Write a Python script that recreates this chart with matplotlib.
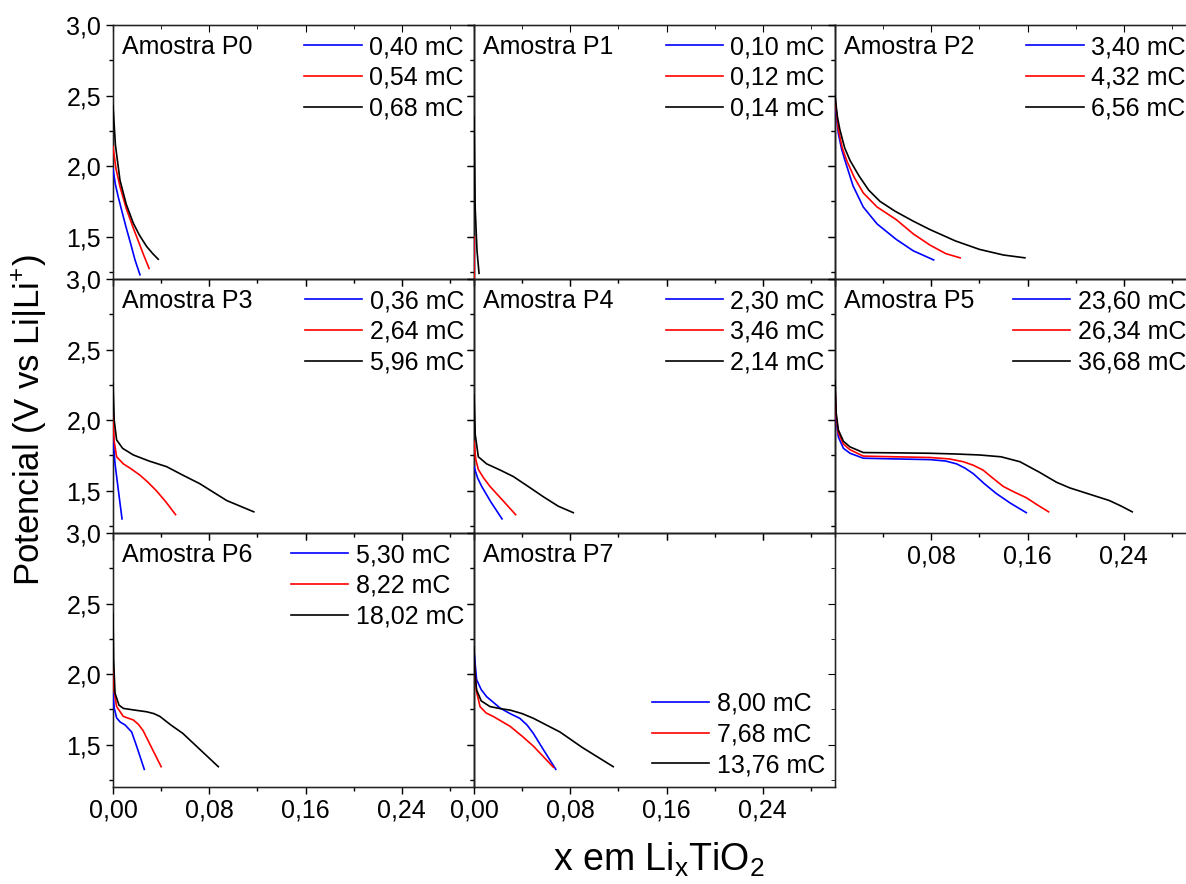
import matplotlib
matplotlib.use('Agg')
import matplotlib.pyplot as plt
from matplotlib.ticker import MultipleLocator, FuncFormatter

plt.rcParams['font.family'] = ['Liberation Sans', 'DejaVu Sans']
plt.rcParams['mathtext.default'] = 'regular'

# --- data (x em LixTiO2, potencial / V) ---
samples = ['Amostra P0', 'Amostra P1', 'Amostra P2', 'Amostra P3',
           'Amostra P4', 'Amostra P5', 'Amostra P6', 'Amostra P7']

p0_labels = ['0,40 mC', '0,54 mC', '0,68 mC']
p0_blue = ([0.0, 0.002, 0.0044, 0.008, 0.0114, 0.015, 0.0183, 0.0224],
           [1.98, 1.87, 1.78, 1.66, 1.55, 1.44, 1.335, 1.23])
p0_red = ([0.0, 0.0025, 0.0058, 0.011, 0.0169, 0.021, 0.025, 0.030],
          [2.14, 1.98, 1.855, 1.70, 1.56, 1.47, 1.38, 1.275])
p0_black = ([0.0, 0.002, 0.0058, 0.011, 0.0169, 0.022, 0.028, 0.033, 0.0376],
            [2.43, 2.15, 1.90, 1.73, 1.595, 1.51, 1.43, 1.38, 1.34])

p1_labels = ['0,10 mC', '0,12 mC', '0,14 mC']
p1_blue = ([0.0, 0.0, 0.0003], [1.48, 1.3, 1.1])
p1_red = ([0.0, 0.0, 0.0003], [1.50, 1.3, 1.1])
p1_black = ([0.0, 0.0005, 0.001, 0.0025, 0.0042], [2.35, 2.0, 1.7, 1.4, 1.24])

p2_labels = ['3,40 mC', '4,32 mC', '6,56 mC']
p2_blue = ([0.0, 0.0028, 0.0055, 0.0083, 0.015, 0.0235, 0.035, 0.051, 0.065, 0.082],
           [2.46, 2.23, 2.12, 2.04, 1.86, 1.71, 1.59, 1.48, 1.40, 1.335])
p2_red = ([0.0, 0.0028, 0.006, 0.0097, 0.016, 0.0235, 0.035, 0.051, 0.065, 0.079, 0.092, 0.104],
          [2.48, 2.26, 2.13, 2.04, 1.92, 1.81, 1.71, 1.62, 1.52, 1.44, 1.38, 1.35])
p2_black = ([0.0, 0.002, 0.004, 0.008, 0.0125, 0.02, 0.028, 0.0374, 0.05, 0.065, 0.079, 0.10, 0.12, 0.14, 0.1578],
            [2.50, 2.35, 2.26, 2.13, 2.04, 1.93, 1.83, 1.75, 1.68, 1.61, 1.55, 1.47, 1.41, 1.37, 1.35])

p3_labels = ['0,36 mC', '2,64 mC', '5,96 mC']
p3_blue = ([0.0, 0.0017, 0.0045, 0.0075], [1.88, 1.69, 1.50, 1.30])
p3_red = ([0.0, 0.001, 0.003, 0.0086, 0.015, 0.0224, 0.029, 0.036, 0.044, 0.052],
          [2.05, 1.85, 1.74, 1.69, 1.655, 1.61, 1.56, 1.50, 1.42, 1.33])
p3_black = ([0.0, 0.001, 0.003, 0.008, 0.0169, 0.03, 0.0446, 0.058, 0.072, 0.0945, 0.117],
            [2.26, 2.0, 1.86, 1.80, 1.753, 1.71, 1.67, 1.61, 1.55, 1.43, 1.35])

p4_labels = ['2,30 mC', '3,46 mC', '2,14 mC']
p4_blue = ([0.0, 0.003, 0.0064, 0.014, 0.0233], [1.67, 1.59, 1.53, 1.42, 1.30])
p4_red = ([0.0, 0.0015, 0.0036, 0.008, 0.0133, 0.024, 0.0346], [1.85, 1.72, 1.65, 1.59, 1.53, 1.43, 1.33])
p4_black = ([0.0, 0.001, 0.0036, 0.0105, 0.022, 0.0327, 0.045, 0.0576, 0.07, 0.0825],
            [2.18, 1.9, 1.74, 1.69, 1.645, 1.60, 1.53, 1.457, 1.39, 1.344])

p5_labels = ['23,60 mC', '26,34 mC', '36,68 mC']
p5_blue = ([0.0, 0.001, 0.0028, 0.007, 0.0125, 0.0235, 0.05, 0.079, 0.092, 0.101, 0.108, 0.115,
            0.124, 0.134, 0.146, 0.159],
           [2.20, 2.0, 1.88, 1.80, 1.765, 1.73, 1.725, 1.72, 1.71, 1.69, 1.66, 1.62,
            1.55, 1.48, 1.41, 1.344])
p5_red = ([0.0, 0.001, 0.0028, 0.007, 0.0125, 0.0235, 0.05, 0.079, 0.095, 0.1066, 0.115, 0.123,
           0.131, 0.1398, 0.149, 0.159, 0.168, 0.1775],
          [2.24, 2.02, 1.91, 1.83, 1.79, 1.745, 1.74, 1.735, 1.725, 1.705, 1.68, 1.646,
           1.59, 1.53, 1.49, 1.45, 1.40, 1.35])
p5_black = ([0.0, 0.001, 0.0028, 0.007, 0.0125, 0.0235, 0.05, 0.079, 0.10, 0.120, 0.138, 0.1537,
             0.17, 0.184, 0.195, 0.206, 0.228, 0.238, 0.247],
            [2.28, 2.05, 1.93, 1.85, 1.81, 1.77, 1.768, 1.765, 1.76, 1.753, 1.74, 1.705,
             1.63, 1.56, 1.52, 1.49, 1.43, 1.39, 1.35])

p6_labels = ['5,30 mC', '8,22 mC', '18,02 mC']
p6_blue = ([0.0, 0.001, 0.003, 0.006, 0.010, 0.0155, 0.020, 0.026],
           [1.864, 1.76, 1.69, 1.66, 1.64, 1.59, 1.48, 1.325])
p6_red = ([0.0, 0.001, 0.003, 0.0086, 0.0169, 0.021, 0.025, 0.032, 0.040],
          [2.076, 1.88, 1.77, 1.70, 1.675, 1.645, 1.60, 1.48, 1.344])
p6_black = ([0.0, 0.0005, 0.0017, 0.005, 0.0086, 0.018, 0.028, 0.034, 0.039, 0.048, 0.058, 0.073, 0.0875],
            [2.43, 2.1, 1.864, 1.78, 1.757, 1.745, 1.733, 1.72, 1.70, 1.64, 1.58, 1.46, 1.344])

p7_labels = ['8,00 mC', '7,68 mC', '13,76 mC']
p7_blue = ([0.0, 0.0022, 0.006, 0.0105, 0.0216, 0.03, 0.038, 0.044, 0.0493, 0.058, 0.068],
           [2.16, 1.96, 1.89, 1.84, 1.76, 1.72, 1.687, 1.64, 1.58, 1.46, 1.325])
p7_red = ([0.0, 0.002, 0.005, 0.010, 0.016, 0.030, 0.04, 0.0493, 0.066],
          [2.10, 1.88, 1.77, 1.725, 1.70, 1.63, 1.56, 1.49, 1.34])
p7_black = ([0.0, 0.0008, 0.0022, 0.006, 0.0133, 0.022, 0.030, 0.04, 0.0493, 0.06, 0.0714, 0.09, 0.1157],
            [2.19, 2.0, 1.887, 1.81, 1.77, 1.755, 1.745, 1.72, 1.687, 1.64, 1.59, 1.48, 1.344])

curves = [(p0_blue, p0_red, p0_black), (p1_blue, p1_red, p1_black), (p2_blue, p2_red, p2_black),
          (p3_blue, p3_red, p3_black), (p4_blue, p4_red, p4_black), (p5_blue, p5_red, p5_black),
          (p6_blue, p6_red, p6_black), (p7_blue, p7_red, p7_black)]
labels = [p0_labels, p1_labels, p2_labels, p3_labels, p4_labels, p5_labels, p6_labels, p7_labels]
colors = ['#0000ff', '#ff0000', '#000000']

comma = FuncFormatter(lambda v, pos: ('%.2f' % v).replace('.', ','))
comma1 = FuncFormatter(lambda v, pos: ('%.1f' % v).replace('.', ','))

fig = plt.figure(figsize=(11.86, 8.84), dpi=100, facecolor='white')
W, H = 1186., 884.
lefts = [113, 474, 835]
tops = [25, 279, 533]
pw, ph = 361, 254

def mirror(ax):
    # inward ticks on top and right, as in the Origin original
    ax2 = ax.twinx()
    ax2.set_ylim(1.2, 3.0)
    ax2.yaxis.set_major_locator(MultipleLocator(0.5))
    ax2.yaxis.set_minor_locator(MultipleLocator(0.25))
    ax2.tick_params(which='both', direction='in', labelright=False)
    ax2.tick_params(which='major', length=5)
    ax2.tick_params(which='minor', length=3)
    ax3 = ax.twiny()
    ax3.set_xlim(0, 0.30)
    ax3.xaxis.set_major_locator(MultipleLocator(0.08))
    ax3.xaxis.set_minor_locator(MultipleLocator(0.04))
    ax3.tick_params(which='both', direction='in', labeltop=False)
    ax3.tick_params(which='major', length=5)
    ax3.tick_params(which='minor', length=3)
    for a in (ax2, ax3):
        for sp in a.spines.values():
            sp.set_color('#222222')

for i in range(8):
    r, c = divmod(i, 3)
    ax = fig.add_axes([lefts[c] / W, 1 - (tops[r] + ph) / H, pw / W, ph / H])
    for (xs, ys), col, lab in zip(curves[i], colors, labels[i]):
        ax.plot(xs, ys, color=col, lw=1.2, label=lab, zorder=3)
    ax.set_xlim(0, 0.30)
    ax.set_ylim(1.2, 3.0)
    ax.xaxis.set_major_locator(MultipleLocator(0.08))
    ax.xaxis.set_minor_locator(MultipleLocator(0.04))
    ax.yaxis.set_major_locator(MultipleLocator(0.5))
    ax.yaxis.set_minor_locator(MultipleLocator(0.25))
    ax.xaxis.set_major_formatter(comma)
    ax.yaxis.set_major_formatter(comma1)
    ax.tick_params(which='both', direction='out', labelsize=18, width=1)
    ax.tick_params(which='major', length=5)
    ax.tick_params(which='minor', length=3)
    for sp in ax.spines.values():
        sp.set_linewidth(1.0)
        sp.set_color('#222222')
    mirror(ax)
    # keep the curves above the twin axes so lines on x=0 stay visible
    ax.set_zorder(5)
    ax.patch.set_visible(False)

    if c == 0:
        ax.set_yticks([1.5, 2.0, 2.5, 3.0])
    else:
        ax.tick_params(labelleft=False)
    if r == 2:
        ax.set_xticks([0.0, 0.08, 0.16, 0.24])
    elif i == 5:
        ax.set_xticks([0.08, 0.16, 0.24])
        ax.xaxis.set_minor_locator(MultipleLocator(0.04))
    else:
        ax.tick_params(labelbottom=False)

    ax.text(0.025, 0.915, samples[i], transform=ax.transAxes, fontsize=18, va='center', ha='left')
    loc = 'lower right' if i == 7 else 'upper right'
    ax.legend(loc=loc, frameon=False, fontsize=18, handlelength=2.3, handletextpad=0.3,
              labelspacing=0.27, borderaxespad=0.1, borderpad=0.3)

fig.text(30 / W, 1 - 420 / H, 'Potencial (V vs Li|Li$^{+}$)', rotation=90, fontsize=25,
         ha='center', va='center')
fig.text(659 / W, 1 - 860 / H, 'x em Li$_{x}$TiO$_{2}$', fontsize=27, ha='center', va='center')

fig.savefig('out.png', dpi=100, facecolor='white')
